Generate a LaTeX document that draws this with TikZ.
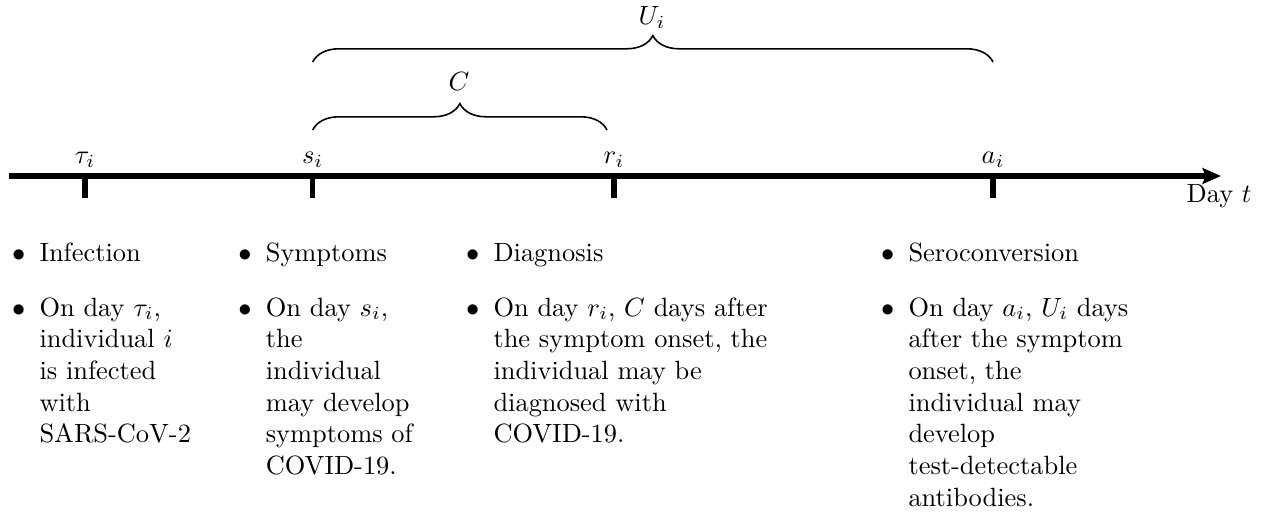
\documentclass[tikz,border=0pt]{standalone}
\usetikzlibrary{arrows.meta,decorations.pathreplacing}
% a block of lines whose baseline is that of its first line
\newcommand\evlines[1]{\vtop{\hsize=160pt\parindent=0pt\raggedright\noindent #1}}
\begin{document}
\begin{tikzpicture}[x=0.3788pt,y=0.3788pt,
  axisline/.style={line width=2.1pt},
  tickmark/.style={line width=2pt},
  curly/.style={decorate,decoration={brace,amplitude=10pt},line width=0.6pt},
  ticklabel/.style={anchor=base,inner sep=0pt},
  itembullet/.style={anchor=base east,inner sep=0pt},
  itemtext/.style={anchor=base west,inner sep=0pt},
]
\useasboundingbox (0,0) rectangle (1272,-512);

% time axis
\coordinate (start) at (9,-176);
\coordinate (end) at (1221,-176);
\draw[axisline,-{Stealth[length=7pt,width=6pt,inset=1.2pt]}] (start) -- (end);
\node[anchor=base east,inner sep=0pt] (day) at (1252,-202.5) {Day $t$};

% event ticks and their labels
\coordinate (ttau) at (85,-176);
\coordinate (ts) at (312.7,-176);
\coordinate (tr) at (614,-176);
\coordinate (ta) at (993,-176);
\foreach \t in {ttau,ts,tr,ta} \draw[tickmark] (\t) -- ++(0,-22);
\node[ticklabel] (ltau) at (85,-163.5) {$\tau_i$};
\node[ticklabel] (ls) at (312.7,-163.5) {$s_i$};
\node[ticklabel] (lr) at (614,-163.5) {$r_i$};
\node[ticklabel] (la) at (993,-163.5) {$a_i$};

% delays between events
\coordinate (cl) at (312.7,-130);
\coordinate (cr) at (607,-130);
\draw[curly] (cl) -- (cr);
\node[ticklabel] (clab) at (459,-91) {$C$};
\coordinate (ul) at (312.7,-62);
\coordinate (ur) at (993,-62);
\draw[curly] (ul) -- (ur);
\node[ticklabel] (ulab) at (652,-25) {$U_i$};

% descriptions of the events
\foreach \x/\n in {39/1,265.3/2,493/3,908/4}{
  \node[itembullet] (b\n a) at (\x-13.2,-261.7) {$\bullet$};
  \node[itembullet] (b\n b) at (\x-13.2,-316) {$\bullet$};
}
\node[itemtext] (i1a) at (39,-261.7) {Infection};
\node[itemtext] (i1b) at (39,-316) {\evlines{On day $\tau_i$,\\individual $i$\\is infected\\with\\SARS-CoV-2}};
\node[itemtext] (i2a) at (265.3,-261.7) {Symptoms};
\node[itemtext] (i2b) at (265.3,-316) {\evlines{On day $s_i$,\\the\\individual\\may develop\\symptoms of\\COVID-19.}};
\node[itemtext] (i3a) at (493,-261.7) {Diagnosis};
\node[itemtext] (i3b) at (493,-316) {\evlines{On day $r_i$, $C$ days after\\the symptom onset, the\\individual may be\\diagnosed with\\COVID-19.}};
\node[itemtext] (i4a) at (908,-261.7) {Seroconversion};
\node[itemtext] (i4b) at (908,-316) {\evlines{On day $a_i$, $U_i$ days\\after the symptom\\onset, the\\individual may\\develop\\test-detectable\\antibodies.}};
\end{tikzpicture}
\end{document}
